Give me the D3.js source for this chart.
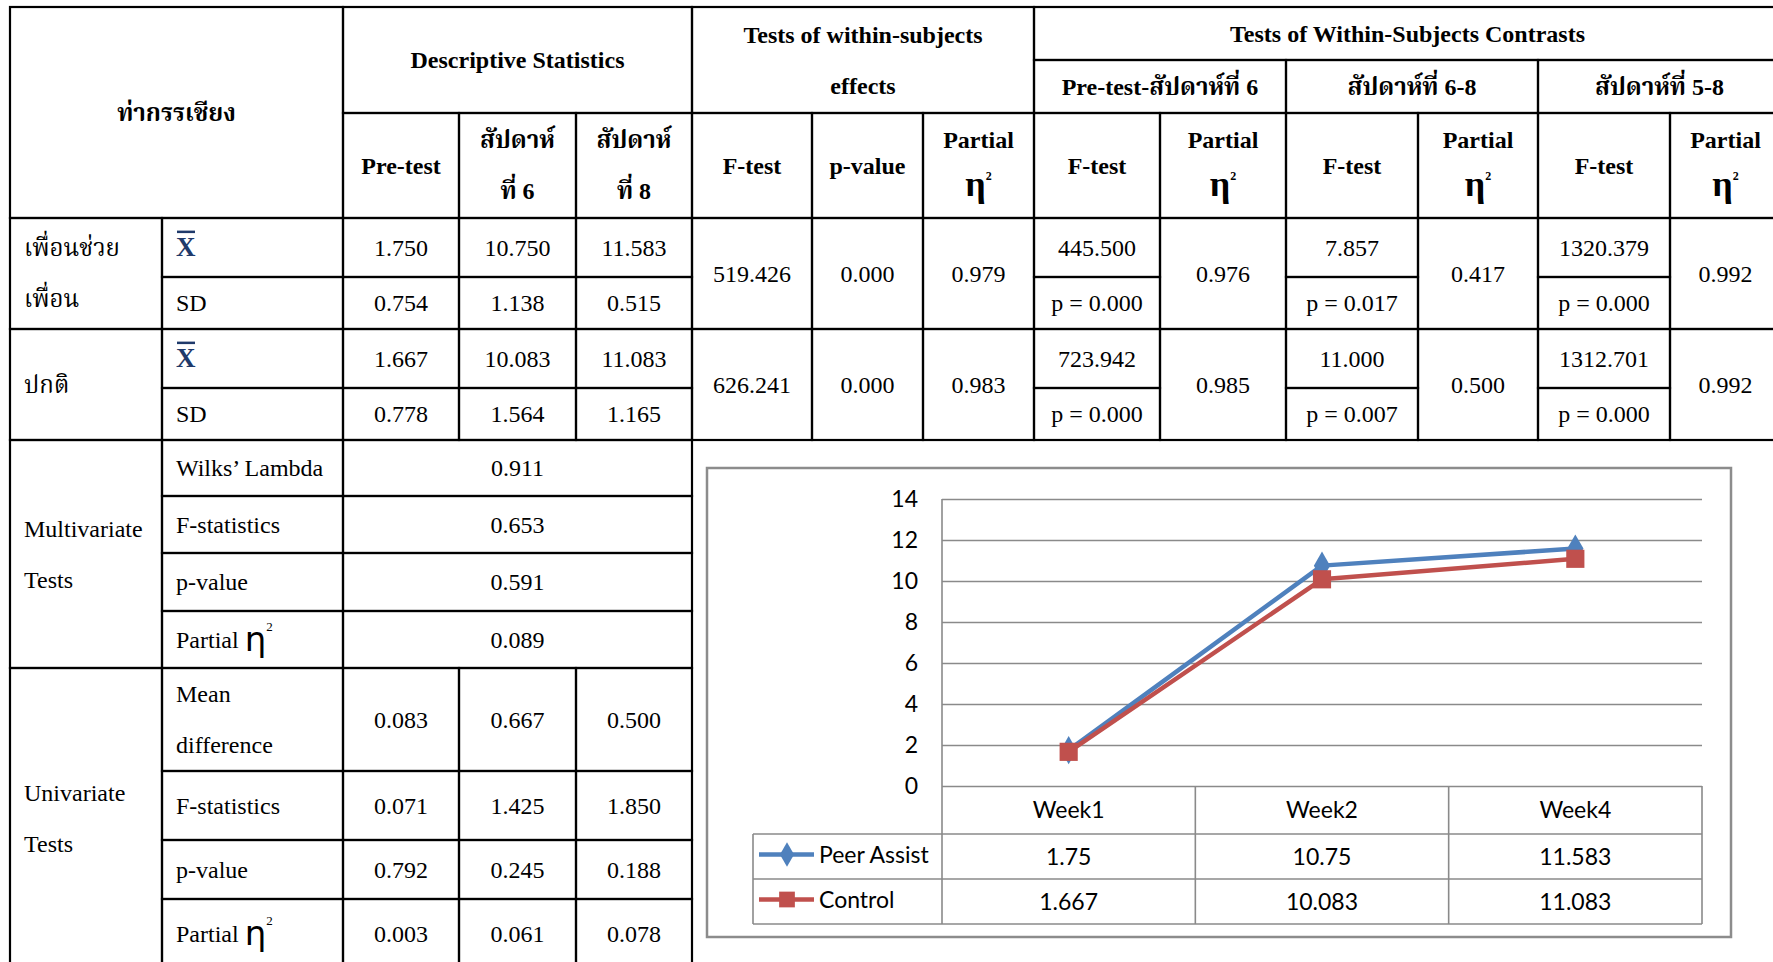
<!DOCTYPE html>
<html>
<head>
<meta charset="utf-8">
<script src="https://cdn.jsdelivr.net/npm/d3@7"></script>
<style>
  html, body { margin: 0; padding: 0; background: #fff; }
  svg { display: block; }
  .tbl { font-family: "Liberation Serif", "Times New Roman", "Noto Serif Thai", "Noto Sans Thai", serif; font-size: 24px; fill: #000; }
  .bold { font-weight: bold; }
  .chart text { font-family: Lato, "Liberation Sans", sans-serif; font-size: 23px; fill: #000; }
</style>
</head>
<body>
<svg id="root" width="1773" height="962"></svg>
<script>
// ---------- Data ----------
const groupNames = [["เพื่อนช่วย", "เพื่อน"], ["ปกติ"]];
const timeHeaders = [["Pre-test"], ["สัปดาห์", "ที่ 6"], ["สัปดาห์", "ที่ 8"]];
const contrastHeaders = ["Pre-test-สัปดาห์ที่ 6", "สัปดาห์ที่ 6-8", "สัปดาห์ที่ 5-8"];
const meanValues = [["1.750", "10.750", "11.583"], ["1.667", "10.083", "11.083"]];
const sdValues = [["0.754", "1.138", "0.515"], ["0.778", "1.564", "1.165"]];
const withinEffects = [["519.426", "0.000", "0.979"], ["626.241", "0.000", "0.983"]];
const contrastF = [["445.500", "7.857", "1320.379"], ["723.942", "11.000", "1312.701"]];
const contrastP = [["0.000", "0.017", "0.000"], ["0.000", "0.007", "0.000"]];
const contrastEta = [["0.976", "0.417", "0.992"], ["0.985", "0.500", "0.992"]];
const multivariateLabels = ["Wilks’ Lambda", "F-statistics", "p-value", "Partial"];
const multivariateValues = ["0.911", "0.653", "0.591", "0.089"];
const univariateLabels = [["Mean", "difference"], ["F-statistics"], ["p-value"], ["Partial"]];
const univariateValues = [
  ["0.083", "0.667", "0.500"],
  ["0.071", "1.425", "1.850"],
  ["0.792", "0.245", "0.188"],
  ["0.003", "0.061", "0.078"]
];

const categories = ["Week1", "Week2", "Week4"];
const seriesNames = ["Peer Assist", "Control"];
const peerAssist = [1.75, 10.75, 11.583];
const control = [1.667, 10.083, 11.083];
const seriesColors = ["#4F81BD", "#C0504D"];

// ---------- Table layout (grid lines) ----------
const colX = [10, 162, 343, 459, 576, 692, 812, 923, 1034, 1160, 1286, 1418, 1538, 1670, 1781];
const rowY = [7, 60, 113, 218, 277, 329, 388, 440, 496, 553, 611, 668, 771, 840, 899, 969];
const LINE_GAP = 51;

const svg = d3.select("#root");
const tbl = svg.append("g").attr("class", "tbl");

const cells = [];
// cell: c0,c1,r0,r1, lines (array of text lines), opts
function cell(c0, c1, r0, r1, lines, opts = {}) {
  cells.push({ c0, c1, r0, r1, lines, ...opts });
}

// Header
cell(0, 2, 0, 3, ["ท่ากรรเชียง"], { bold: true });
cell(2, 5, 0, 2, ["Descriptive Statistics"], { bold: true });
cell(5, 8, 0, 2, ["Tests of within-subjects", "effects"], { bold: true });
cell(8, 14, 0, 1, ["Tests of Within-Subjects Contrasts"], { bold: true });
contrastHeaders.forEach((h, k) => cell(8 + 2 * k, 10 + 2 * k, 1, 2, [h], { bold: true }));
timeHeaders.forEach((h, k) => cell(2 + k, 3 + k, 2, 3, h, { bold: true }));
cell(5, 6, 2, 3, ["F-test"], { bold: true });
cell(6, 7, 2, 3, ["p-value"], { bold: true });
cell(7, 8, 2, 3, ["Partial", "η"], { bold: true, eta: "header" });
for (let k = 0; k < 3; k++) {
  cell(8 + 2 * k, 9 + 2 * k, 2, 3, ["F-test"], { bold: true });
  cell(9 + 2 * k, 10 + 2 * k, 2, 3, ["Partial", "η"], { bold: true, eta: "header" });
}

// Group rows
groupNames.forEach((name, g) => {
  const rs = 3 + 2 * g;
  cell(0, 1, rs, rs + 2, name, { align: "left" });
  cell(1, 2, rs, rs + 1, ["X"], { align: "left", xbar: true });
  cell(1, 2, rs + 1, rs + 2, ["SD"], { align: "left" });
  meanValues[g].forEach((v, k) => cell(2 + k, 3 + k, rs, rs + 1, [v]));
  sdValues[g].forEach((v, k) => cell(2 + k, 3 + k, rs + 1, rs + 2, [v]));
  withinEffects[g].forEach((v, k) => cell(5 + k, 6 + k, rs, rs + 2, [v]));
  for (let k = 0; k < 3; k++) {
    cell(8 + 2 * k, 9 + 2 * k, rs, rs + 1, [contrastF[g][k]]);
    cell(8 + 2 * k, 9 + 2 * k, rs + 1, rs + 2, ["p = " + contrastP[g][k]]);
    cell(9 + 2 * k, 10 + 2 * k, rs, rs + 2, [contrastEta[g][k]]);
  }
});

// Multivariate tests
cell(0, 1, 7, 11, ["Multivariate", "Tests"], { align: "left" });
multivariateLabels.forEach((lab, i) => {
  cell(1, 2, 7 + i, 8 + i, [lab], { align: "left", eta: lab === "Partial" ? "inline" : null });
  cell(2, 5, 7 + i, 8 + i, [multivariateValues[i]]);
});

// Univariate tests
cell(0, 1, 11, 15, ["Univariate", "Tests"], { align: "left" });
univariateLabels.forEach((lab, i) => {
  cell(1, 2, 11 + i, 12 + i, lab, { align: "left", eta: lab[0] === "Partial" ? "inline" : null });
  univariateValues[i].forEach((v, k) => cell(2 + k, 3 + k, 11 + i, 12 + i, [v]));
});

// Borders
tbl.selectAll("rect.cell").data(cells).join("rect")
  .attr("class", "cell")
  .attr("x", d => colX[d.c0]).attr("y", d => rowY[d.r0])
  .attr("width", d => colX[d.c1] - colX[d.c0])
  .attr("height", d => rowY[d.r1] - rowY[d.r0])
  .attr("fill", "none").attr("stroke", "#000").attr("stroke-width", 2.2);

// Texts
cells.forEach(d => {
  const cx = (colX[d.c0] + colX[d.c1]) / 2;
  const cy = (rowY[d.r0] + rowY[d.r1]) / 2;
  const n = d.lines.length;
  d.lines.forEach((line, i) => {
    const y = cy + (i - (n - 1) / 2) * LINE_GAP;
    const left = d.align === "left";
    const t = tbl.append("text")
      .attr("x", left ? colX[d.c0] + 14 : cx)
      .attr("y", y)
      .attr("dy", "0.34em")
      .attr("text-anchor", left ? "start" : "middle")
      .classed("bold", !!d.bold);
    if (d.eta === "header" && line === "η") {
      t.attr("dy", "0.22em");
      t.append("tspan").attr("font-size", 36).text("η");
      t.append("tspan").attr("font-size", 12).attr("dy", -16).text("2");
    } else if (d.eta === "inline" && line === "Partial") {
      t.append("tspan").text("Partial ");
      t.append("tspan").attr("font-family", "DejaVu Sans").attr("font-size", 34).attr("dy", 3).text("η");
      t.append("tspan").attr("font-size", 13).attr("dy", -20).text("2");
    } else if (d.xbar) {
      t.classed("bold", true).attr("font-size", 27).attr("fill", "#1f3a6b").attr("dy", "0.3em").text(line);
      const bb = t.node().getBBox();
      tbl.append("rect")
        .attr("x", bb.x + 1).attr("y", bb.y - 1)
        .attr("width", bb.width - 2).attr("height", 2.5)
        .attr("fill", "#1f3a6b");
    } else {
      t.text(line);
    }
  });
});

// ---------- Line chart with data table ----------
const chart = svg.append("g").attr("class", "chart");
const frame = { x: 707, y: 468, w: 1024, h: 469 };
chart.append("rect")
  .attr("x", frame.x).attr("y", frame.y).attr("width", frame.w).attr("height", frame.h)
  .attr("fill", "#fff").attr("stroke", "#8c8c8c").attr("stroke-width", 2.5);

const plotLeft = 942, plotRight = 1702, plotTop = 499, plotBottom = 786;
const legendLeft = 753;
const tableRows = [786, 834, 879, 924];

const x = d3.scaleBand().domain(categories).range([plotLeft, plotRight]);
const y = d3.scaleLinear().domain([0, 14]).range([plotBottom, plotTop]);
const gridColor = "#8a8a8a";

// Gridlines and y labels
const yAxis = d3.axisLeft(y).tickValues(d3.range(0, 15, 2)).tickSize(-(plotRight - plotLeft)).tickPadding(24);
const ga = chart.append("g").attr("transform", `translate(${plotLeft},0)`).call(yAxis);
ga.select(".domain").remove();
ga.selectAll(".tick line").attr("stroke", gridColor).attr("stroke-width", 1.6);
ga.selectAll(".tick text").attr("font-family", "Lato, sans-serif").attr("font-size", 23).attr("fill", "#000");

// Vertical axis line
chart.append("line")
  .attr("x1", plotLeft).attr("x2", plotLeft).attr("y1", y(14)).attr("y2", tableRows[3])
  .attr("stroke", gridColor).attr("stroke-width", 1.6);

// Data table grid
const bounds = categories.map(c => x(c)).concat([plotRight]);
bounds.slice(1).forEach(bx => {
  chart.append("line").attr("x1", bx).attr("x2", bx)
    .attr("y1", tableRows[0]).attr("y2", tableRows[3])
    .attr("stroke", gridColor).attr("stroke-width", 1.6);
});
tableRows.slice(1).forEach(ry => {
  chart.append("line").attr("x1", legendLeft).attr("x2", plotRight)
    .attr("y1", ry).attr("y2", ry)
    .attr("stroke", gridColor).attr("stroke-width", 1.6);
});
chart.append("line").attr("x1", legendLeft).attr("x2", legendLeft)
  .attr("y1", tableRows[1]).attr("y2", tableRows[3])
  .attr("stroke", gridColor).attr("stroke-width", 1.6);

// Category labels
chart.selectAll("text.cat").data(categories).join("text")
  .attr("class", "cat")
  .attr("x", d => x(d) + x.bandwidth() / 2)
  .attr("y", (tableRows[0] + tableRows[1]) / 2)
  .attr("dy", "0.36em").attr("text-anchor", "middle")
  .text(d => d);

const series = [
  { name: seriesNames[0], values: peerAssist, color: seriesColors[0], marker: d3.symbolDiamond, size: 230 },
  { name: seriesNames[1], values: control, color: seriesColors[1], marker: d3.symbolSquare, size: 330 }
];

// Table values and legend keys
series.forEach((s, si) => {
  const rowMid = (tableRows[si + 1] + tableRows[si + 2]) / 2;
  chart.selectAll(null).data(s.values).join("text")
    .attr("x", (d, i) => x(categories[i]) + x.bandwidth() / 2)
    .attr("y", rowMid).attr("dy", "0.36em").attr("text-anchor", "middle")
    .text(d => d);
  chart.append("line")
    .attr("x1", legendLeft + 6).attr("x2", legendLeft + 61)
    .attr("y1", rowMid - 2).attr("y2", rowMid - 2)
    .attr("stroke", s.color).attr("stroke-width", 4.5);
  chart.append("path")
    .attr("transform", `translate(${legendLeft + 34},${rowMid - 2})`)
    .attr("d", d3.symbol().type(s.marker).size(s.size * 0.75)())
    .attr("fill", s.color);
  chart.append("text")
    .attr("x", legendLeft + 66).attr("y", rowMid - 2).attr("dy", "0.36em")
    .text(s.name);
});

// Lines and markers
const line = d3.line().x((d, i) => x(categories[i]) + x.bandwidth() / 2).y(d => y(d));
series.forEach(s => {
  chart.append("path").datum(s.values)
    .attr("d", line).attr("fill", "none")
    .attr("stroke", s.color).attr("stroke-width", 4.5).attr("stroke-linejoin", "round");
});
series.forEach(s => {
  chart.selectAll(null).data(s.values).join("path")
    .attr("transform", (d, i) => `translate(${x(categories[i]) + x.bandwidth() / 2},${y(d)})`)
    .attr("d", d3.symbol().type(s.marker).size(s.size)())
    .attr("fill", s.color);
});
</script>
</body>
</html>
